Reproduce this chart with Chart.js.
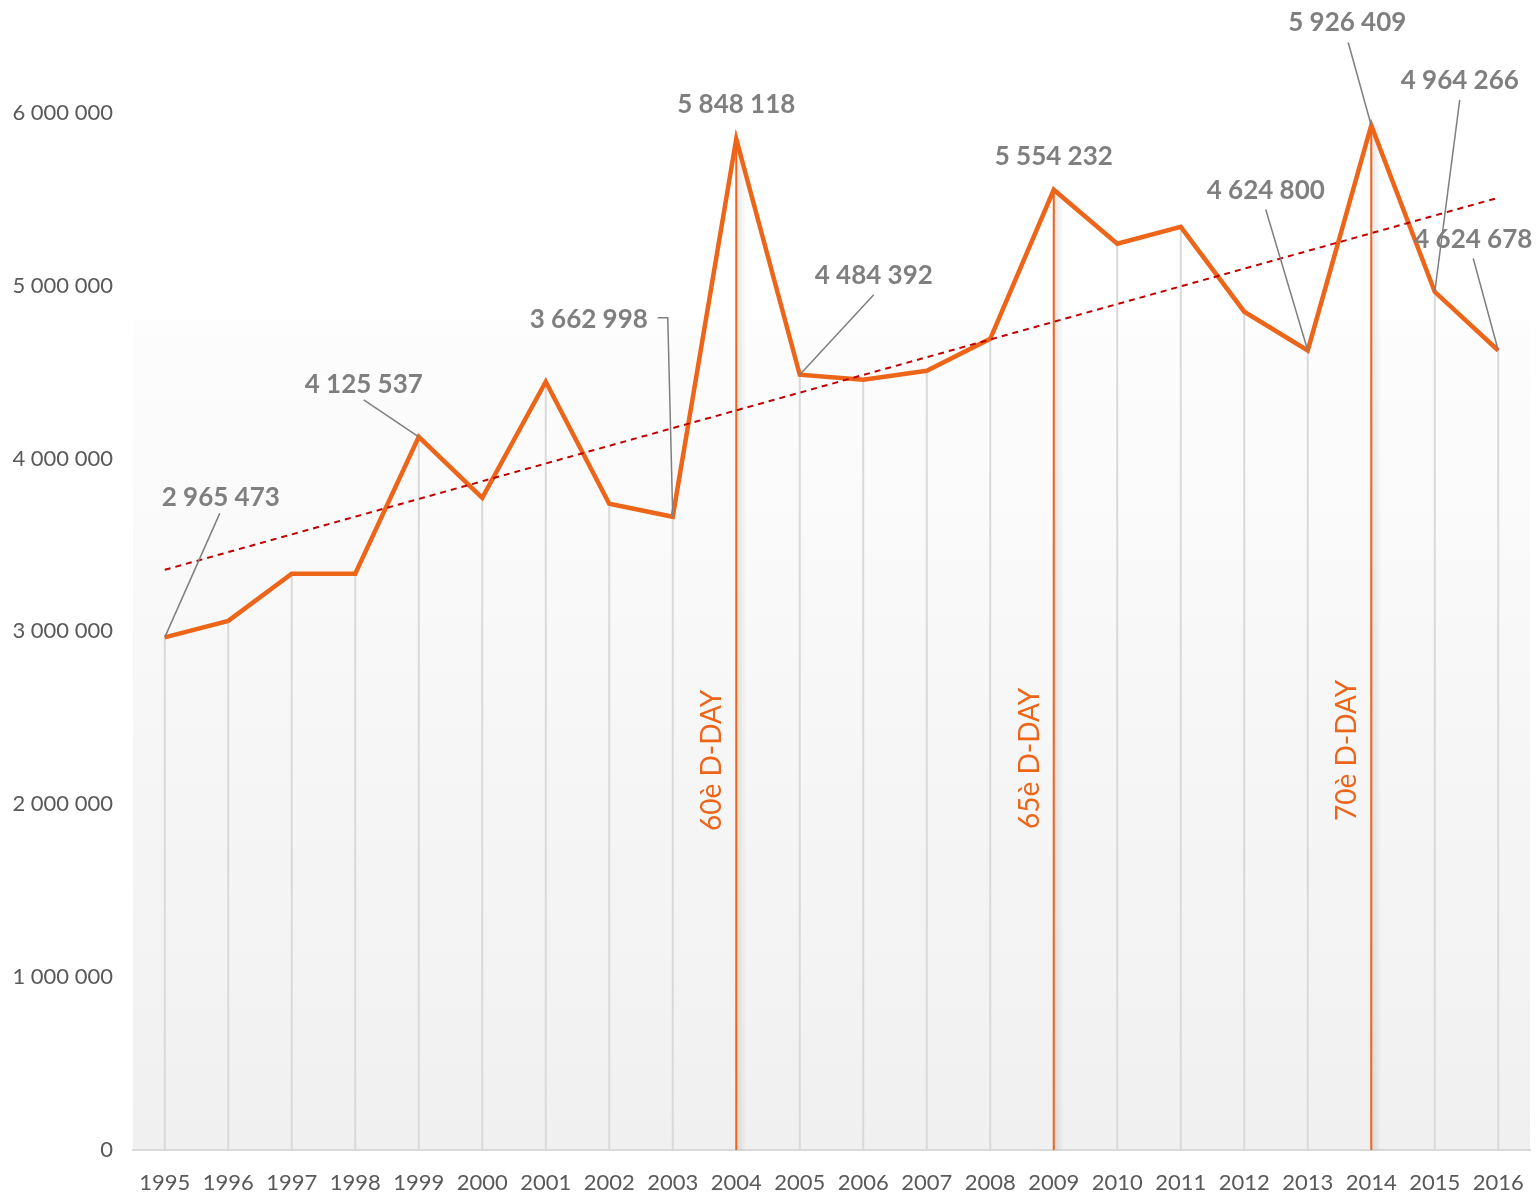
<!DOCTYPE html>
<html>
<head>
<meta charset="utf-8">
<script src="https://cdn.jsdelivr.net/npm/chart.js@4.4.1/dist/chart.umd.min.js"></script>
<style>
  html, body { margin: 0; padding: 0; background: #fff; }
  #wrap { width: 1537px; height: 1194px; }
</style>
</head>
<body>
<div id="wrap"><canvas id="myChart"></canvas></div>
<script>
// data
const years = ['1995','1996','1997','1998','1999','2000','2001','2002','2003','2004','2005',
               '2006','2007','2008','2009','2010','2011','2012','2013','2014','2015','2016'];
const visitors = [2965473, 3061000, 3333000, 3333000, 4125537, 3772000, 4444000, 3738000,
                  3662998, 5848118, 4484392, 4455000, 4507000, 4692000, 5554232, 5242000,
                  5340000, 4849000, 4624800, 5926409, 4964266, 4624678];
const trendStartEnd = [3356000, 5508000];
const yTickValues = [0, 1000000, 2000000, 3000000, 4000000, 5000000, 6000000];
const eventYears = ['2004', '2009', '2014'];
const eventTexts = ['60è D-DAY', '65è D-DAY', '70è D-DAY'];
const labelYears = ['1995','1999','2003','2004','2005','2009','2013','2014','2015','2016'];

// label placement, pixel offsets from the point: [textDx, textDy, leaderDx, leaderDy, cornerDx]
const labelOffsets = {
  '1995': [56, -140, 55, -124],
  '1999': [-55, -52, -55, -37],
  '2003': [-84, -197, -15, -199, -5],
  '2004': [0, -34],
  '2005': [74, -99, 74, -80],
  '2009': [0, -33],
  '2013': [-42, -160, -42, -141],
  '2014': [-24, -103, -23, -83],
  '2015': [25, -211, 25, -192],
  '2016': [-25, -111, -25, -92]
};
const eventTextBottom = [831, 829, 821];

const orange = '#EC6519';
const grey = '#7f7f7f';

function fmt(v) {
  return String(v).replace(/\B(?=(\d{3})+(?!\d))/g, ' ');
}

const trendData = years.map((y, i) => i === 0 ? trendStartEnd[0] : (i === years.length - 1 ? trendStartEnd[1] : null));

Chart.defaults.font.family = 'Lato';

const backdrop = {
  id: 'backdrop',
  beforeDraw(chart) {
    const { ctx, chartArea: a } = chart;
    const top = 320;
    const g = ctx.createLinearGradient(0, top, 0, a.bottom);
    g.addColorStop(0, '#fdfdfd');
    g.addColorStop(1, '#f0f0f0');
    ctx.save();
    ctx.fillStyle = g;
    ctx.fillRect(a.left, top, a.right - a.left, a.bottom - top);
    ctx.restore();
  },
  beforeDatasetsDraw(chart) {
    const { ctx, chartArea: a } = chart;
    const meta = chart.getDatasetMeta(0);
    ctx.save();
    meta.data.forEach((pt, i) => {
      const ev = eventYears.indexOf(years[i]);
      if (ev >= 0) {
        const sg = ctx.createLinearGradient(pt.x, 0, pt.x + 10, 0);
        sg.addColorStop(0, 'rgba(0,0,0,0.10)');
        sg.addColorStop(1, 'rgba(0,0,0,0)');
        ctx.fillStyle = sg;
        ctx.fillRect(pt.x, pt.y, 10, a.bottom - pt.y);
        ctx.strokeStyle = orange;
        ctx.lineWidth = 2;
      } else {
        ctx.strokeStyle = '#d9d9d9';
        ctx.lineWidth = 2;
      }
      ctx.beginPath();
      ctx.moveTo(pt.x, pt.y);
      ctx.lineTo(pt.x, a.bottom);
      ctx.stroke();
      if (ev >= 0) {
        ctx.save();
        ctx.translate(pt.x - 24, eventTextBottom[ev]);
        ctx.rotate(-Math.PI / 2);
        ctx.fillStyle = orange;
        ctx.font = '28px Lato';
        ctx.textAlign = 'left';
        ctx.textBaseline = 'middle';
        ctx.fillText(eventTexts[ev], 0, 0);
        ctx.restore();
      }
    });
    ctx.restore();
  },
  afterDatasetsDraw(chart) {
    const { ctx } = chart;
    const meta = chart.getDatasetMeta(0);
    ctx.save();
    ctx.font = 'bold 26px Lato';
    ctx.textAlign = 'center';
    ctx.textBaseline = 'middle';
    labelYears.forEach(y => {
      const i = years.indexOf(y);
      const pt = meta.data[i];
      const o = labelOffsets[y];
      if (o.length > 2) {
        ctx.strokeStyle = grey;
        ctx.lineWidth = 1.5;
        ctx.beginPath();
        if (o.length > 4) {
          ctx.moveTo(pt.x + o[2], pt.y + o[3]);
          ctx.lineTo(pt.x + o[4], pt.y + o[3]);
        } else {
          ctx.moveTo(pt.x + o[2], pt.y + o[3]);
        }
        ctx.lineTo(pt.x, pt.y);
        ctx.stroke();
      }
      ctx.fillStyle = grey;
      ctx.fillText(fmt(visitors[i]), pt.x + o[0], pt.y + o[1]);
    });
    ctx.restore();
  }
};

const data = {
  labels: years,
  datasets: [{
    label: 'Visiteurs',
    data: visitors,
    borderColor: orange,
    borderWidth: 4.5,
    pointRadius: 0,
    tension: 0,
    order: 1
  }, {
    label: 'Tendance',
    data: trendData,
    spanGaps: true,
    borderColor: '#C00000',
    borderWidth: 2,
    borderDash: [6, 5],
    pointRadius: 0,
    order: 0
  }]
};

const config = {
  type: 'line',
  data,
  plugins: [backdrop],
  options: {
    responsive: true,
    maintainAspectRatio: false,
    animation: false,
    layout: { padding: { top: 9, right: 7, bottom: 0, left: 0 } },
    plugins: {
      legend: { display: false },
      tooltip: { enabled: false }
    },
    scales: {
      x: {
        offset: true,
        grid: { display: false, drawTicks: false },
        border: { display: true, color: '#d9d9d9', width: 2 },
        afterFit: s => { s.height = 44; s.paddingLeft = 0; s.paddingRight = 0; },
        ticks: { color: '#595959', font: { size: 22 }, padding: 20, maxRotation: 0, autoSkip: false }
      },
      y: {
        min: 0,
        max: 6600000,
        grid: { display: false, drawTicks: false },
        border: { display: false },
        afterBuildTicks: s => { s.ticks = yTickValues.map(v => ({ value: v })); },
        afterFit: s => { s.width = 133; s.paddingTop = 0; s.paddingBottom = 0; },
        ticks: { color: '#595959', font: { size: 22 }, padding: 20, callback: v => fmt(v) }
      }
    }
  }
};

const myChart = new Chart(document.getElementById('myChart'), config);
</script>
</body>
</html>
